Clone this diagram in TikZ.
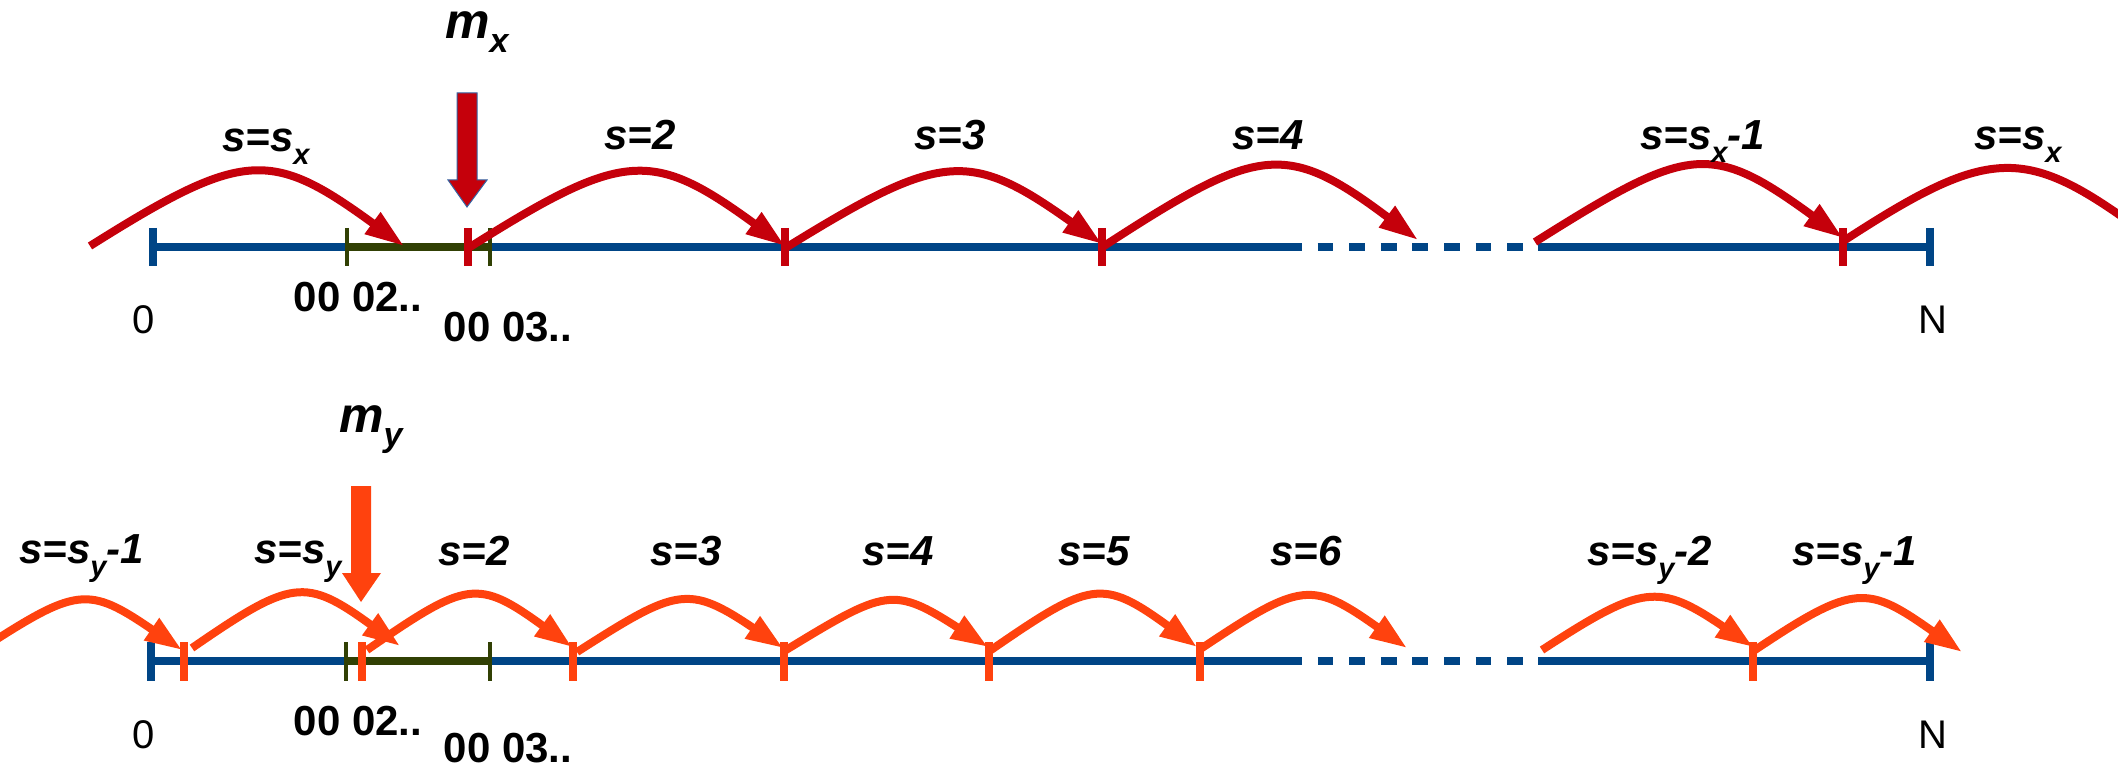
\documentclass[tikz,border=0pt]{standalone}
\usepackage{fontspec}
\setmainfont{Liberation Sans}
\usetikzlibrary{arrows.meta}
\definecolor{lblue}{HTML}{004586}
\definecolor{lred}{HTML}{C5000B}
\definecolor{lorange}{HTML}{FF420E}
\definecolor{lgreen}{HTML}{314004}
\definecolor{loutline}{HTML}{3465A4}
\newcommand\lsub[1]{\raisebox{-13pt}{\fontsize{29}{29}\selectfont #1}}
\newcommand\msub[1]{\raisebox{-14pt}{\fontsize{34}{34}\selectfont #1}}
\begin{document}
\begin{tikzpicture}[x=1pt,y=-1pt,
  axis/.style={draw=lblue,line width=8pt},
  dashaxis/.style={draw=lblue,line width=8pt,dash pattern=on 15.8pt off 15.8pt},
  seg/.style={draw=lgreen,line width=8pt},
  gtick/.style={draw=lgreen,line width=4pt},
  btick/.style={draw=lblue,line width=8pt},
  rtick/.style={draw=lred,line width=8pt},
  otick/.style={draw=lorange,line width=8pt},
  hopx/.style={draw=lred,line width=8pt,-{Triangle[length=39pt,width=25pt]}},
  hopxplain/.style={draw=lred,line width=8pt},
  hopy/.style={draw=lorange,line width=8pt,-{Triangle[length=37pt,width=25pt]}},
  lab/.style={inner sep=0pt,anchor=base west,font=\fontsize{42}{42}\selectfont\bfseries\itshape},
  mlab/.style={inner sep=0pt,anchor=base west,font=\fontsize{50}{50}\selectfont\bfseries\itshape},
  numlab/.style={inner sep=0pt,anchor=base,font=\fontsize{42}{42}\selectfont\bfseries},
  endlab/.style={inner sep=0pt,anchor=base,font=\fontsize{40}{40}\selectfont},
]
\clip (0,0) rectangle (2118,770);

% ================= TOP ROW =================
\draw[axis] (153,247) -- (1286,247);
\draw[dashaxis] (1286,247) -- (1538,247);
\draw[axis] (1538,247) -- (1930,247);
\draw[seg] (347,247) -- (490,247);
\draw[gtick] (347,228) -- (347,266);
\draw[gtick] (490,228) -- (490,266);
\draw[btick] (153,228) -- (153,266);
\draw[btick] (1930,228) -- (1930,266);
\foreach \x in {468,785,1102,1843} \draw[rtick] (\x,228) -- (\x,266);

\coordinate (a1s) at (90,246);   \coordinate (a1t) at (404,246);
\coordinate (a2s) at (470,247);  \coordinate (a2t) at (785,246);
\coordinate (a3s) at (787,247);  \coordinate (a3t) at (1102,244);
\coordinate (a4s) at (1104,246); \coordinate (a4t) at (1418,240);
\coordinate (a5s) at (1535,242); \coordinate (a5t) at (1843,238);
\coordinate (a6s) at (1845,240); \coordinate (a6t) at (2162,246);

\draw[hopx] (a1s) .. controls +(154,-97) and +(-133,-97) .. (a1t);
\draw[hopx] (a2s) .. controls +(154,-97) and +(-133,-97) .. (a2t);
\draw[hopx] (a3s) .. controls +(154,-95) and +(-133,-95) .. (a3t);
\draw[hopx] (a4s) .. controls +(154,-100) and +(-133,-100) .. (a4t);
\draw[hopx] (a5s) .. controls +(154,-97) and +(-133,-97) .. (a5t);
\draw[hopxplain] (a6s) .. controls +(154,-100) and +(-133,-100) .. (a6t);

% m_x arrow
\draw[fill=lred,draw=loutline,line width=1pt]
  (457,93) -- (477,93) -- (477,180) -- (487,180) -- (467,207) -- (448,180) -- (457,180) -- cycle;
\node[mlab] (mx) at (445,39) {m\msub{x}};

\node[lab] (tl1) at (222,152) {s=s\lsub{x}};
\node[lab] (tl2) at (604,150) {s=2};
\node[lab] (tl3) at (914,150) {s=3};
\node[lab] (tl4) at (1232,150) {s=4};
\node[lab] (tl5) at (1640,150) {s=s\lsub{x}-1};
\node[lab] (tl6) at (1974,150) {s=s\lsub{x}};

\node[endlab] (t0) at (143.5,333) {0};
\node[endlab] (tN) at (1933,333) {N};
\node[numlab] (t02) at (358,311) {00 02..};
\node[numlab] (t03) at (508,341) {00 03..};

% ================= BOTTOM ROW =================
\draw[axis] (151,661) -- (1286,661);
\draw[dashaxis] (1286,661) -- (1538,661);
\draw[axis] (1538,661) -- (1930,661);
\draw[seg] (346,661) -- (490,661);
\draw[gtick] (346,642) -- (346,681);
\draw[gtick] (490,642) -- (490,681);
\draw[btick] (151,642) -- (151,681);
\draw[btick] (1930,642) -- (1930,681);
\foreach \x in {184,362,573,784,989,1200,1753} \draw[otick] (\x,642) -- (\x,681);

\coordinate (b0s) at (-23,652);  \coordinate (b0t) at (182,650);
\coordinate (b1s) at (192,648);  \coordinate (b1t) at (400,646);
\coordinate (b2s) at (367,650);  \coordinate (b2t) at (572,647);
\coordinate (b3s) at (577,652);  \coordinate (b3t) at (783,648);
\coordinate (b4s) at (786,650);  \coordinate (b4t) at (988,647);
\coordinate (b5s) at (991,650);  \coordinate (b5t) at (1197,647);
\coordinate (b6s) at (1202,648); \coordinate (b6t) at (1407,648);
\coordinate (b7s) at (1542,650); \coordinate (b7t) at (1753,647);
\coordinate (b8s) at (1755,650); \coordinate (b8t) at (1962,652);

\draw[hopy] (b0s) .. controls +(100,-65) and +(-95,-65) .. (b0t);
\draw[hopy] (b1s) .. controls +(100,-69) and +(-95,-69) .. (b1t);
\draw[hopy] (b2s) .. controls +(100,-69) and +(-95,-69) .. (b2t);
\draw[hopy] (b3s) .. controls +(100,-64) and +(-95,-64) .. (b3t);
\draw[hopy] (b4s) .. controls +(100,-61) and +(-95,-61) .. (b4t);
\draw[hopy] (b5s) .. controls +(100,-69) and +(-95,-69) .. (b5t);
\draw[hopy] (b6s) .. controls +(100,-67) and +(-95,-67) .. (b6t);
\draw[hopy] (b7s) .. controls +(100,-65) and +(-95,-65) .. (b7t);
\draw[hopy] (b8s) .. controls +(100,-67) and +(-95,-67) .. (b8t);

% m_y arrow
\fill[lorange]
  (351,486) -- (371,486) -- (371,573) -- (381,573) -- (361,602) -- (342,573) -- (351,573) -- cycle;
\node[mlab] (my) at (339,432) {m\msub{y}};

\node[lab] (bl0) at (19,563) {s=s\lsub{y}-1};
\node[lab] (bl1) at (254,563) {s=s\lsub{y}};
\node[lab] (bl2) at (438,565) {s=2};
\node[lab] (bl3) at (650,565) {s=3};
\node[lab] (bl4) at (862,565) {s=4};
\node[lab] (bl5) at (1058,565) {s=5};
\node[lab] (bl6) at (1270,565) {s=6};
\node[lab] (bl7) at (1587,565) {s=s\lsub{y}-2};
\node[lab] (bl8) at (1792,565) {s=s\lsub{y}-1};

\node[endlab] (b0) at (143.5,748) {0};
\node[endlab] (bN) at (1933,748) {N};
\node[numlab] (b02) at (358,735) {00 02..};
\node[numlab] (b03) at (508,762) {00 03..};
\end{tikzpicture}
\end{document}
